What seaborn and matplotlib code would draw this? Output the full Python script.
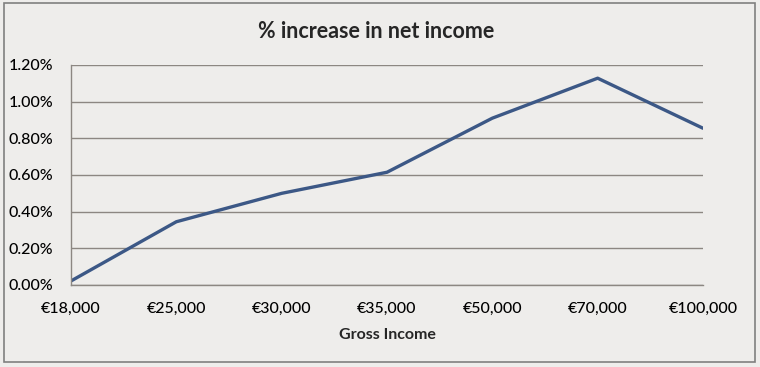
import seaborn as sns
import matplotlib.pyplot as plt
import matplotlib.patches as patches
from matplotlib.ticker import FuncFormatter
import pandas as pd

# data
incomes = ["€18,000", "€25,000", "€30,000", "€35,000", "€50,000", "€70,000", "€100,000"]
pct_increase = [0.022, 0.345, 0.50, 0.615, 0.91, 1.128, 0.855]
y_ticks = [0.0, 0.2, 0.4, 0.6, 0.8, 1.0, 1.2]

bg = "#EEEDEB"
grid_col = "#8C8782"
line_col = "#3C5886"

sns.set_style("white")
plt.rcParams["font.family"] = ["Lato", "DejaVu Sans"]

df = pd.DataFrame({"income": incomes, "pct": pct_increase})

fig = plt.figure(figsize=(7.6, 3.67), dpi=100, facecolor=bg)
ax = fig.add_axes([71 / 760, 1 - 285 / 367, (703 - 71) / 760, (285 - 65) / 367])
ax.set_facecolor(bg)

sns.lineplot(data=df, x="income", y="pct", ax=ax, color=line_col, linewidth=2.4, sort=False)

ax.set_xlim(0, len(incomes) - 1)
ax.set_ylim(0, 1.2)
ax.set_yticks(y_ticks)
ax.yaxis.set_major_formatter(FuncFormatter(lambda v, p: f"{v:.2f}%"))
ax.set_xticks(range(len(incomes)))
ax.set_xticklabels(incomes)

ax.grid(axis="y", color=grid_col, linewidth=1.0)
ax.grid(axis="x", visible=False)
ax.set_axisbelow(True)
for s in ["top", "right"]:
    ax.spines[s].set_visible(False)
for s in ["left", "bottom"]:
    ax.spines[s].set_color(grid_col)
    ax.spines[s].set_linewidth(1.0)

ax.tick_params(axis="both", direction="out", length=4, width=1, color=grid_col,
               labelsize=11.5, labelcolor="black")
ax.tick_params(axis="x", pad=8)
ax.tick_params(axis="y", pad=9)
for lbl in ax.get_xticklabels() + ax.get_yticklabels():
    lbl.set_fontweight("medium")
ax.set_xlabel("Gross Income", fontsize=11.5, fontweight="bold", labelpad=9)
ax.set_ylabel("")

fig.text(376 / 760, 1 - 31 / 367, "% increase in net income", ha="center", va="center",
         fontsize=15.5, fontweight="bold")

# outer chart frame
fig.patches.append(patches.Rectangle((4 / 760, 1 - 362 / 367), 751 / 760, 359 / 367,
                                     transform=fig.transFigure, fill=False,
                                     edgecolor="#808080", linewidth=1.2))

fig.savefig("out.png", dpi=100, facecolor=bg)
